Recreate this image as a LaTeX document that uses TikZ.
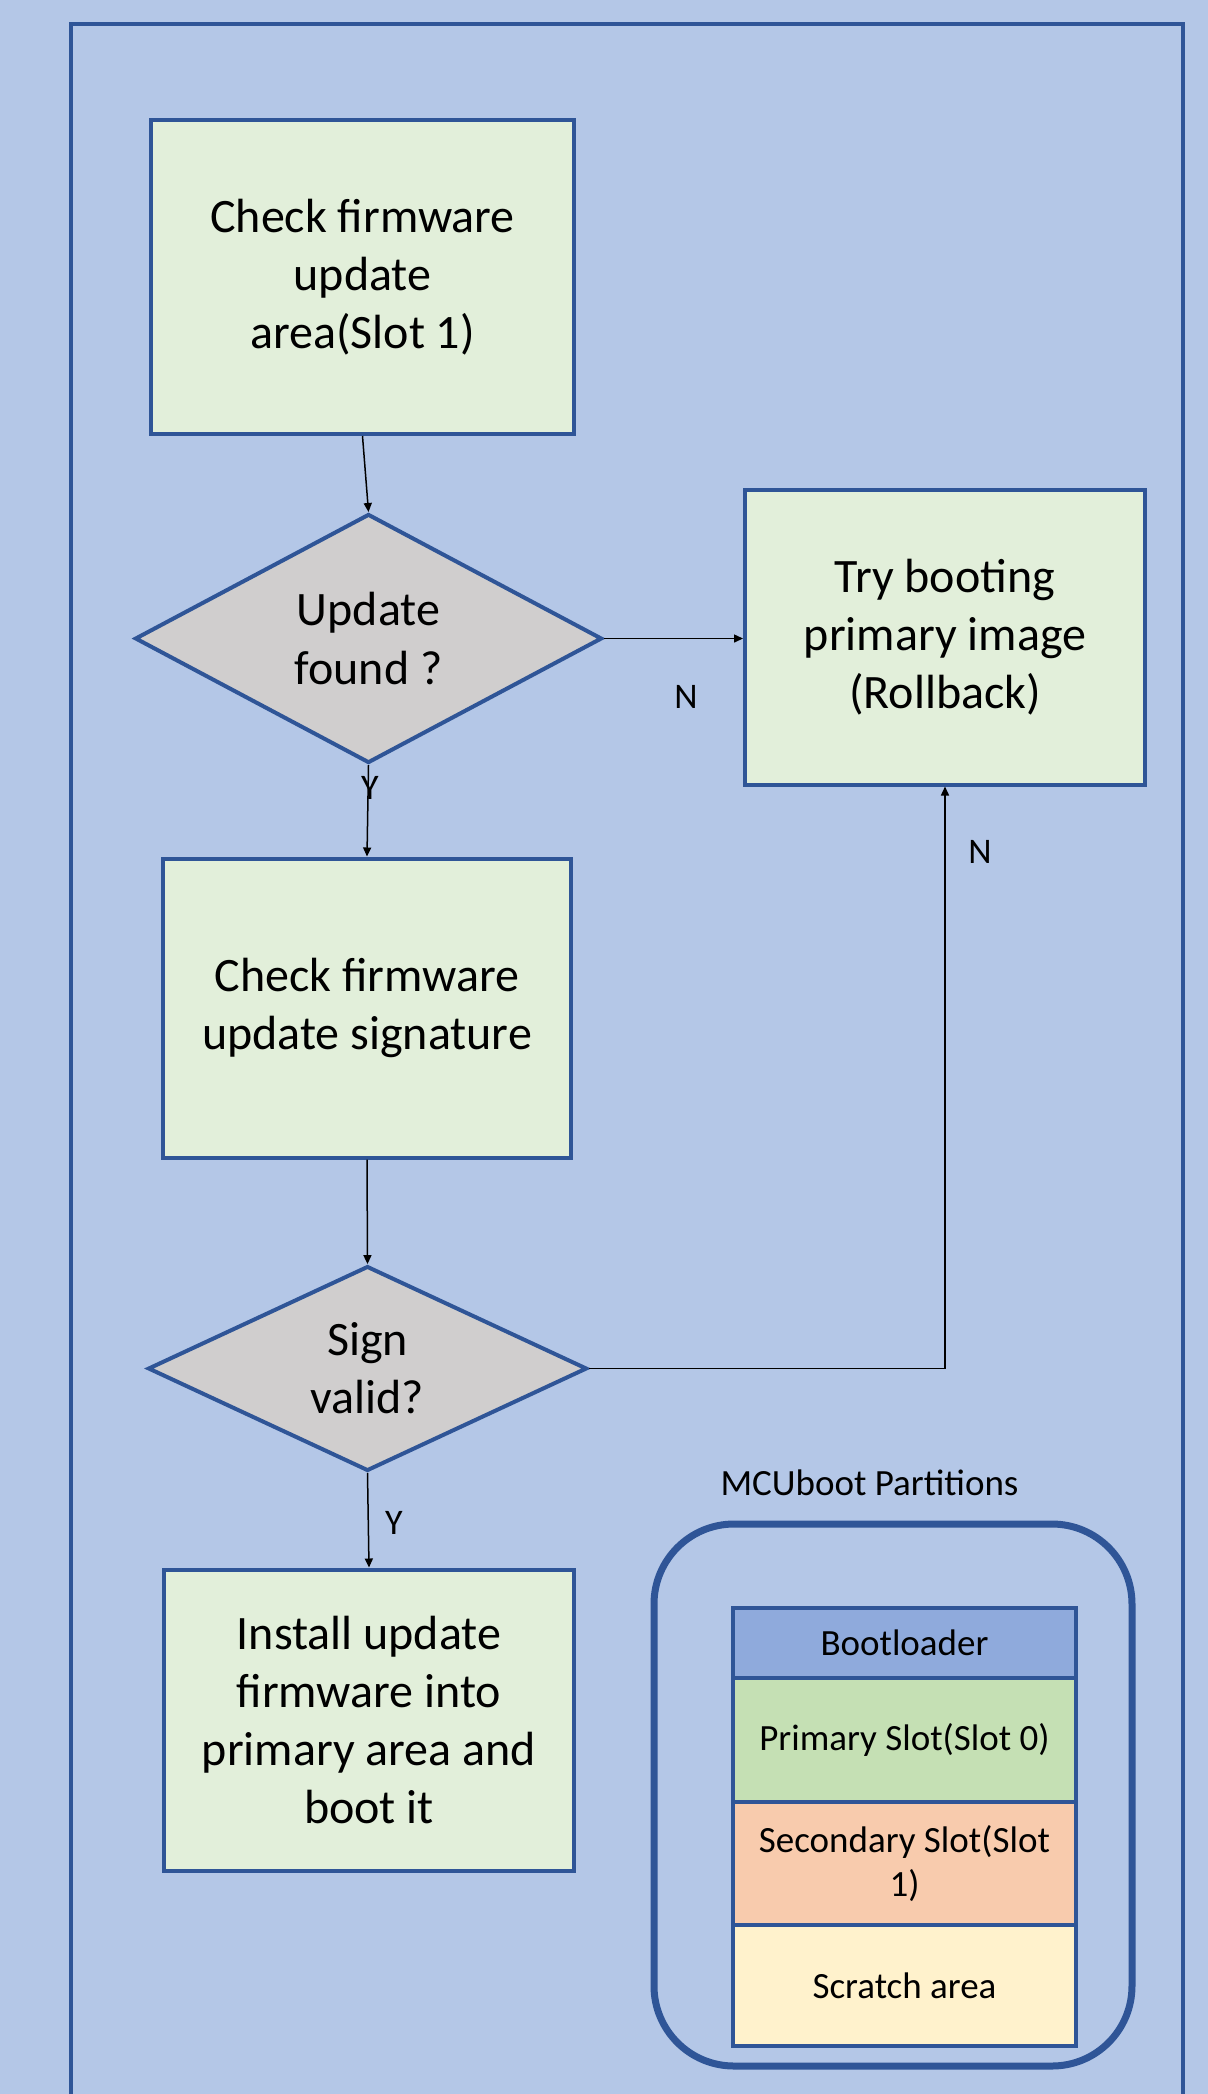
\documentclass[tikz,border=0pt]{standalone}
\usepackage{fontspec}
\setmainfont{Carlito}
\definecolor{bootbg}{RGB}{180,199,231}
\definecolor{bootline}{RGB}{47,85,151}
\definecolor{stepfill}{RGB}{226,239,218}
\definecolor{decfill}{RGB}{208,206,206}
\definecolor{partboot}{RGB}{143,170,220}
\definecolor{partprim}{RGB}{197,224,180}
\definecolor{partsec}{RGB}{248,203,173}
\definecolor{partscr}{RGB}{255,242,204}
\usetikzlibrary{
  arrows.meta,
  positioning,
  shapes.geometric
}

\tikzset{
  stepbox/.style={draw=bootline, fill=stepfill, line width=2pt, align=center,
    inner sep=0pt, font=\fontsize{24}{29}\selectfont},
  decision/.style={diamond, draw=bootline, fill=decfill, line width=2pt,
    align=center, inner sep=0pt, font=\fontsize{24}{29}\selectfont},
  partbox/.style={draw=bootline, line width=2pt, minimum width=171.5pt,
    outer sep=0pt, inner sep=0pt, align=center,
    font=\fontsize{18.5}{22}\selectfont},
  flow/.style={-{Triangle[length=4.5pt,width=4pt]}, line width=0.75pt, black},
  lbl/.style={font=\fontsize{18}{22}\selectfont, inner sep=0pt}
}

\begin{document}
\begin{tikzpicture}[x=0.5pt, y=-0.5pt]
\path[use as bounding box, fill=bootbg] (0,0) rectangle (1208,2094);
\clip (0,0) rectangle (1208,2094);

% outer frame, open at the bottom
\draw[bootline, line width=2pt] (71,2100) -- (71,24) -- (1183,24) -- (1183,2100);

% flow chart
\node[stepbox, minimum width=211.5pt, minimum height=157pt] (chkarea) at (362.5,277)
  {Check firmware\\update\\area(Slot 1)};
\node[decision, minimum width=233.5pt, minimum height=124.5pt] (found) at (368.5,638.5)
  {Update\\found ?};
\node[stepbox, minimum width=200pt, minimum height=147.5pt] (rollback) at (945,637)
  {Try booting\\primary image\\(Rollback)};
\node[stepbox, minimum width=204pt, minimum height=149.5pt] (chksign) at (367,1008)
  {Check firmware\\update signature};
\node[decision, minimum width=219.5pt, minimum height=101.5pt] (signok) at (367.5,1368.5)
  {Sign\\valid?};
\node[stepbox, minimum width=205pt, minimum height=150.5pt] (install) at (369,1720)
  {Install update\\firmware into\\primary area and\\boot it};

\draw[flow] (chkarea.south) -- (found.north);
\draw[flow] (found.east) -- (found.east -| rollback.west);
\draw[flow] (found.south) -- (chksign.north);
\draw[flow] (chksign.south) -- (signok.north);
\draw[flow] (signok.east) -| (rollback.south);
\draw[flow] (signok.south) -- (install.north);

\node[lbl] (nofound) at (686,697) {N};
\node[lbl] (yesfound) at (370,788) {Y};
\node[lbl] (nosign) at (980,852) {N};
\node[lbl] (yessign) at (394,1523) {Y};

% MCUboot partitions
\node[font=\fontsize{18.5}{22}\selectfont] (parttitle) at (869.5,1483) {MCUboot Partitions};
\node[draw=bootline, line width=3.5pt, rounded corners=40pt,
      minimum width=239pt, minimum height=271pt] (partframe) at (893,1795) {};
\node[partbox, fill=partboot, minimum height=35pt] (pboot) at (904.5,1643) {Bootloader};
\node[partbox, fill=partprim, minimum height=62pt, below=0pt of pboot] (pprim) {Primary Slot(Slot 0)};
\node[partbox, fill=partsec, minimum height=61.5pt, below=0pt of pprim] (psec) {Secondary Slot(Slot\\1)};
\node[partbox, fill=partscr, minimum height=60.5pt, below=0pt of psec] (pscratch) {Scratch area};
\end{tikzpicture}
\end{document}
